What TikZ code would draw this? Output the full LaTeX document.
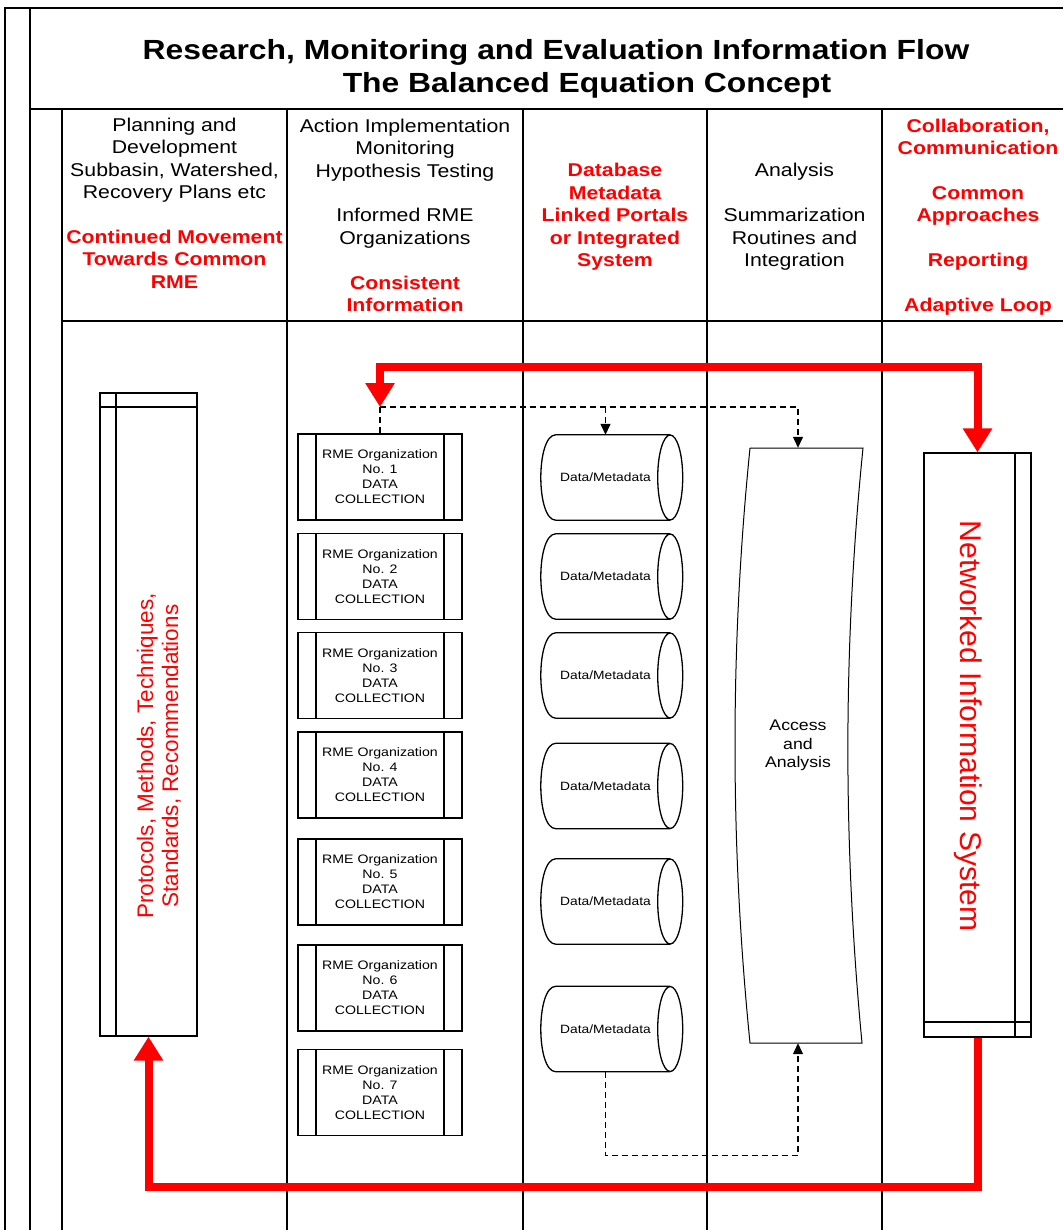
\documentclass[tikz,border=0pt]{standalone}
\usepackage{fontspec}
\setmainfont{Liberation Sans}[FakeStretch=1.15]
\newfontfamily\plainsans{Liberation Sans}
\usepackage{xcolor}
\usepackage{tikz}
\usetikzlibrary{arrows.meta, positioning}

\newcommand{\redtxt}[1]{\textcolor{red}{\bfseries #1}}

\begin{document}
\begin{tikzpicture}[x=1pt, y=-1pt,
    rule/.style={line width=1.6pt},
    heading/.style={align=center, inner sep=0pt, anchor=base, font=\fontsize{18.5}{22.4}\selectfont},
    orgbox/.style={draw, line width=1.3pt, minimum width=164pt, minimum height=86pt, inner sep=0pt,
        align=center, font=\fontsize{12.3}{15}\selectfont,
        path picture={\draw[line width=1.3pt]
            ([xshift=18pt]path picture bounding box.north west) -- ([xshift=18pt]path picture bounding box.south west)
            ([xshift=-18pt]path picture bounding box.north east) -- ([xshift=-18pt]path picture bounding box.south east);}},
    drum/.style={minimum width=129pt, minimum height=85pt, inner sep=0pt, font=\fontsize{12}{14}\selectfont},
    dashflow/.style={dash pattern=on 6pt off 4pt, line width=1.3pt},
    redflow/.style={red, line width=8pt},
    bigtip/.tip={Triangle[width=28pt, length=24pt]},
    smalltip/.tip={Triangle[width=10pt, length=11pt]}]
    \useasboundingbox (0,0) rectangle (1063,1230);

    % frame and columns
    \draw[line width=2.5pt] (5,7) -- (5,1230);
    \draw[line width=2.2pt] (4,8) -- (1063,8);
    \draw[rule] (30,8) -- (30,1230);
    \draw[line width=2.8pt] (30,109) -- (1063,109);
    \draw[line width=2.5pt] (62,321) -- (1063,321);
    \foreach \x in {62, 287, 523, 707, 882}
        \draw[rule] (\x,109) -- (\x,1230);

    % title
    \node[anchor=base, font=\bfseries\fontsize{27.7}{33}\selectfont] (title) at (556,60)
        {Research, Monitoring and Evaluation Information Flow};
    \node[anchor=base, font=\bfseries\fontsize{27.7}{33}\selectfont] (subtitle) at (587,93)
        {The Balanced Equation Concept};

    % column headings (anchored on their last line)
    \node[heading] (plan) at (174.5,288) {Planning and\\Development\\Subbasin, Watershed,\\Recovery Plans etc\\[22.4pt]
        \redtxt{Continued Movement}\\\redtxt{Towards Common}\\\redtxt{RME}};
    \node[heading] (action) at (405,311.5) {Action Implementation\\Monitoring\\Hypothesis Testing\\[22.4pt]
        Informed RME\\Organizations\\[22.4pt]\redtxt{Consistent}\\\redtxt{Information}};
    \node[heading] (database) at (615,266.5) {\redtxt{Database}\\\redtxt{Metadata}\\\redtxt{Linked Portals}\\
        \redtxt{or Integrated}\\\redtxt{System}};
    \node[heading] (analysis) at (794.5,266.5) {Analysis\\[22.4pt]Summarization\\Routines and\\Integration};
    \node[heading] (collab) at (978,311.5) {\redtxt{Collaboration,}\\\redtxt{Communication}\\[22.4pt]
        \redtxt{Common}\\\redtxt{Approaches}\\[22.4pt]\redtxt{Reporting}\\[22.4pt]\redtxt{Adaptive Loop}};

    % protocols store
    \node[draw, line width=1.3pt, minimum width=97pt, minimum height=643pt, inner sep=0pt,
        path picture={\draw[line width=1.3pt]
            ([xshift=16pt]path picture bounding box.north west) -- ([xshift=16pt]path picture bounding box.south west)
            ([yshift=-14pt]path picture bounding box.north west) -- ([yshift=-14pt]path picture bounding box.north east);}]
        (proto) at (148.5,714.5) {};
    \node[rotate=90, red, align=center, font=\plainsans\fontsize{22.5}{25}\selectfont] (protolbl) at (159,756)
        {Protocols, Methods, Techniques,\\Standards, Recommendations};

    % networked information system
    \node[draw, line width=1.3pt, minimum width=107pt, minimum height=584pt, inner sep=0pt,
        path picture={\draw[line width=1.3pt]
            ([xshift=-16pt]path picture bounding box.north east) -- ([xshift=-16pt]path picture bounding box.south east)
            ([yshift=15pt]path picture bounding box.south west) -- ([yshift=15pt]path picture bounding box.south east);}]
        (nis) at (977.5,745) {};
    \node[rotate=-90, red, font=\plainsans\fontsize{30}{34}\selectfont] (nislbl) at (968,726)
        {Networked Information System};

    % RME organizations
    \foreach \i/\y in {1/477, 2/576.5, 3/675.5, 4/775, 5/882, 6/988, 7/1092.5}
        \node[orgbox] (org\i) at (380,\y) {RME Organization\\No. \i\\DATA\\COLLECTION};

    % data stores
    \foreach \i/\y in {1/477.5, 2/576.5, 3/675.5, 4/786, 5/901.5, 6/1029} {
        \node[drum] (d\i) at (605.5,\y) {Data/Metadata};
        \draw[line width=1.3pt] ([xshift=15pt]d\i.north west) -- (d\i.north east)
            (d\i.south east) -- ([xshift=15pt]d\i.south west)
            .. controls ([xshift=-5pt]d\i.south west) and ([xshift=-5pt]d\i.north west) .. ([xshift=15pt]d\i.north west)
            (d\i.east) ellipse [x radius=12.5, y radius=42.5];
    }

    % access and analysis
    \node[minimum width=100pt, minimum height=595pt, inner sep=0pt, align=center,
        font=\fontsize{15.4}{18.5}\selectfont] (access) at (798,745.5) {Access\\and\\Analysis};
    \draw[line width=1pt] (750,448) -- (863,448) .. controls (843,646) and (843,844) .. (862,1043)
        -- (750,1043) .. controls (730,844) and (730,646) .. (750,448);

    % dashed data flow
    \coordinate (split) at (380,407);
    \draw[dashflow] (split) -- (org1.north);
    \draw[dashflow, -smalltip] (split) -| (access.north);
    \draw[dashflow, -smalltip] (split -| d1.north) -- (d1.north);
    \draw[dashflow, -smalltip] (d6.south) -- ++(0,84) -| (access.south);

    % adaptive loop
    \draw[redflow, bigtip-bigtip] (split) -- ++(0,-40) -| (nis.north);
    \draw[redflow, -bigtip] (nis.south) -- ++(0,149) -| (proto.south);
\end{tikzpicture}
\end{document}
